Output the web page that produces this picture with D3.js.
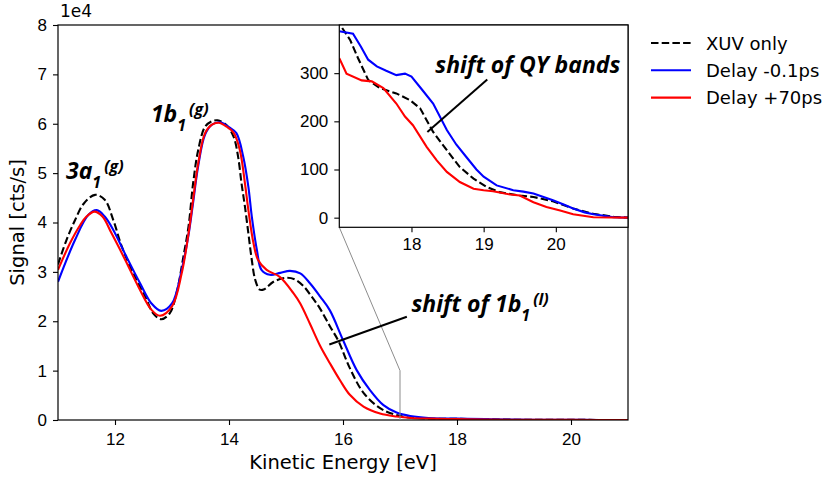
<!DOCTYPE html>
<html lang="en">
<head>
<meta charset="UTF-8">
<title>Photoelectron spectra</title>
<style>
    body { margin: 0; background: #fff; }
    svg { font-family: "DejaVu Sans", sans-serif; }
    .tick text { font-size: 17px; fill: #000; }
    .tick line { stroke: #000; stroke-width: 1.1; }
    .domain { display: none; }
    .note { font-family: "Open Sans", sans-serif; font-weight: bold; font-style: italic; font-size: 23px; }
</style>
</head>
<body>
<svg width="827" height="480"></svg>
<script src="https://d3js.org/d3.v7.min.js"></script>
<script>

// main spectra, [energy eV, signal cts/s]
var xuvMain = [[11.0,31500],[11.15,36500],[11.3,40500],[11.45,43800],[11.65,45600],[11.82,44600],[11.97,40500],
    [12.12,35100],[12.35,29000],[12.53,25000],[12.67,21600],[12.81,20400],[12.96,21600],[13.08,25700],[13.2,33100],
    [13.29,39200],[13.37,47900],[13.46,54700],[13.58,59400],[13.7,60500],[13.8,60700],[13.95,59800],[14.08,57400],
    [14.16,53300],[14.22,47900],[14.28,43200],[14.34,37800],[14.4,32400],[14.46,28400],[14.54,26400],[14.62,26500],
    [14.78,28000],[15.0,28800],[15.15,28500],[15.3,27200],[15.45,25000],[15.6,22500],[15.77,19000],[15.92,16000],
    [16.12,10500],[16.36,5500],[16.65,2400],[16.88,1200],[17.1,600],[17.5,300],[18.0,240],[18.5,140],[19.0,65],
    [19.5,46],[20.0,33],[20.5,10],[21.0,0]];
var earlyMain = [[11.0,28000],[11.3,36500],[11.53,41500],[11.68,42500],[11.82,41200],[11.97,38500],[12.2,33100],
    [12.44,27700],[12.64,23600],[12.81,22100],[13.0,23600],[13.17,30400],[13.29,37500],[13.37,44000],[13.46,51500],
    [13.58,57800],[13.7,59800],[13.84,60300],[14.0,59300],[14.13,58100],[14.25,53300],[14.34,47200],[14.4,41200],
    [14.49,34400],[14.57,30400],[14.72,29400],[14.9,29800],[15.07,30200],[15.25,29700],[15.42,27700],[15.6,25000],
    [15.77,22200],[16.0,16200],[16.24,10100],[16.47,6100],[16.71,3000],[16.94,1500],[17.18,800],[17.5,400],
    [18.0,290],[18.5,180],[19.0,85],[19.5,55],[20.0,35],[20.5,8],[21.0,0]];
var lateMain = [[11.0,30400],[11.21,35800],[11.39,39500],[11.5,41200],[11.64,42200],[11.78,41200],[11.94,37800],
    [12.18,32400],[12.41,27000],[12.64,22300],[12.79,21100],[13.0,23000],[13.17,29700],[13.29,37800],[13.37,44600],
    [13.46,52000],[13.58,58100],[13.7,59800],[13.82,60200],[13.96,59400],[14.08,58200],[14.19,54700],[14.28,47900],
    [14.34,42500],[14.43,35800],[14.51,32400],[14.66,30400],[14.89,29000],[15.13,25700],[15.25,23600],[15.42,19500],
    [15.6,15000],[15.77,11500],[15.95,8000],[16.12,5100],[16.36,2700],[16.65,1300],[16.94,700],[17.2,400],
    [17.5,280],[18.0,190],[18.5,95],[19.0,57],[19.5,46],[20.0,17],[20.5,2],[21.0,0]];

// inset (raw, 17-21 eV), [energy eV, signal cts/s]
var xuvInset = [[17.0,415],[17.03,396],[17.15,369],[17.26,331],[17.4,286],[17.56,269],[17.79,258],[17.98,244],
    [18.12,227],[18.3,178],[18.49,140],[18.67,105],[18.86,81],[19.04,64],[19.22,53],[19.5,46],[19.69,43],
    [19.96,34],[20.24,19],[20.52,8],[20.8,2],[21.0,0]];
var earlyInset = [[17.0,387],[17.19,382],[17.3,355],[17.4,328],[17.52,314],[17.65,305],[17.79,296],[17.91,299],
    [18.0,293],[18.15,265],[18.3,237],[18.49,182],[18.62,152],[18.76,126],[18.9,100],[19.0,85],[19.18,67],
    [19.41,57],[19.55,54],[19.69,50],[19.85,42],[19.96,36],[20.1,28],[20.24,19],[20.4,11],[20.52,7],[20.8,1],[21.0,0]];
var lateInset = [[17.0,331],[17.1,299],[17.31,285],[17.45,283],[17.61,269],[17.79,237],[17.91,210],[18.02,192],
    [18.21,147],[18.35,119],[18.49,95],[18.67,74],[18.86,60],[19.0,57],[19.13,55],[19.37,48],[19.5,46],
    [19.69,32],[19.87,22],[20.06,15],[20.24,7],[20.52,1],[21.0,0]];

var seriesNames = ["XUV only", "Delay -0.1ps", "Delay +70ps"];
var seriesColors = ["#000000", "#0000ff", "#ff0000"];
var seriesDash = ["7.5,3.2", null, null];

var xTicks = [12, 14, 16, 18, 20];
var yTicks = [0, 10000, 20000, 30000, 40000, 50000, 60000, 70000, 80000];
var xTicksInset = [18, 19, 20];
var yTicksInset = [0, 100, 200, 300];

var svg = d3.select("svg");

var x = d3.scaleLinear().domain([11, 21]).range([58, 628]);
var y = d3.scaleLinear().domain([0, 80000]).range([420, 25]);

var defs = svg.append("defs");
defs.append("clipPath").attr("id", "clipMain").append("rect")
    .attr("x", 58).attr("y", 25).attr("width", 570).attr("height", 395);

// main axes
svg.append("g").attr("transform", "translate(0,420)")
    .call(d3.axisBottom(x).tickValues(xTicks).tickSize(5).tickPadding(8).tickSizeOuter(0).tickFormat(d3.format("d")));
svg.append("g").attr("transform", "translate(58,0)")
    .call(d3.axisLeft(y).tickValues(yTicks).tickSize(5).tickPadding(6).tickSizeOuter(0)
        .tickFormat(function(d) { return d / 1e4; }));

svg.append("text").attr("x", 60).attr("y", 17).attr("font-size", 17).text("1e4");

var mainLine = d3.line()
    .x(function(d) { return x(d[0]); })
    .y(function(d) { return y(d[1]); })
    .curve(d3.curveCatmullRom.alpha(0.5));

var mainData = [xuvMain, earlyMain, lateMain];
var gMain = svg.append("g").attr("clip-path", "url(#clipMain)");
mainData.forEach(function(s, i) {
    gMain.append("path")
        .attr("d", mainLine(s))
        .attr("fill", "none")
        .attr("stroke", seriesColors[i])
        .attr("stroke-width", 2.1)
        .attr("stroke-dasharray", seriesDash[i]);
});

svg.append("rect").attr("x", 58).attr("y", 25).attr("width", 570).attr("height", 395)
    .attr("fill", "none").attr("stroke", "#000").attr("stroke-width", 1.2);

svg.append("text").attr("x", x(16)).attr("y", 469).attr("text-anchor", "middle")
    .attr("font-size", 19.5).text("Kinetic Energy [eV]");
svg.append("text").attr("transform", "translate(24," + y(40000) + ") rotate(-90)")
    .attr("text-anchor", "middle").attr("font-size", 19.5).text("Signal [cts/s]");

// inset position guide
svg.append("path")
    .attr("d", "M339.3,227.3L" + x(17) + "," + y(10000) + "L" + x(17) + "," + y(0))
    .attr("fill", "none").attr("stroke", "#8c8c8c").attr("stroke-width", 1);

// peak labels
function label(sel, px, py, base, sub, sup) {
    var t = sel.append("text").attr("class", "note").attr("x", px).attr("y", py);
    t.append("tspan").text(base);
    t.append("tspan").attr("font-size", 16).attr("dy", 9).text(sub);
    t.append("tspan").attr("font-size", 16).attr("dy", -16).attr("dx", 3).text(sup);
    return t;
}
label(svg, x(11.14), y(48800), "3a", "1", "(g)");
label(svg, x(12.63), y(60300), "1b", "1", "(g)");
label(svg, x(17.2), y(21900), "shift of 1b", "1", "(l)");

svg.append("line")
    .attr("x1", x(15.76)).attr("y1", y(15300))
    .attr("x2", x(17.12)).attr("y2", y(20900))
    .attr("stroke", "#000").attr("stroke-width", 2);

// inset
var xi = d3.scaleLinear().domain([17, 21]).range([339.3, 628]);
var yi = d3.scaleLinear().domain([-20, 400]).range([227.3, 25]);

defs.append("clipPath").attr("id", "clipInset").append("rect")
    .attr("x", 339.3).attr("y", 25).attr("width", 288.7).attr("height", 202.3);

svg.append("rect").attr("x", 339.3).attr("y", 25).attr("width", 288.7).attr("height", 202.3)
    .attr("fill", "#fff");

svg.append("g").attr("transform", "translate(0,227.3)")
    .call(d3.axisBottom(xi).tickValues(xTicksInset).tickSize(5).tickPadding(6).tickSizeOuter(0)
        .tickFormat(d3.format("d")));
svg.append("g").attr("transform", "translate(339.3,0)")
    .call(d3.axisLeft(yi).tickValues(yTicksInset).tickSize(5).tickPadding(6).tickSizeOuter(0));

var insetLine = d3.line()
    .x(function(d) { return xi(d[0]); })
    .y(function(d) { return yi(d[1]); });

var insetData = [xuvInset, earlyInset, lateInset];
var gInset = svg.append("g").attr("clip-path", "url(#clipInset)");
insetData.forEach(function(s, i) {
    gInset.append("path")
        .attr("d", insetLine(s))
        .attr("fill", "none")
        .attr("stroke", seriesColors[i])
        .attr("stroke-width", 2.1)
        .attr("stroke-dasharray", seriesDash[i]);
});

svg.append("rect").attr("x", 339.3).attr("y", 25).attr("width", 288.7).attr("height", 202.3)
    .attr("fill", "none").attr("stroke", "#000").attr("stroke-width", 1.2);

svg.append("text").attr("class", "note").attr("x", xi(18.33)).attr("y", yi(300))
    .text("shift of QY bands");
svg.append("line")
    .attr("x1", xi(18.22)).attr("y1", yi(178))
    .attr("x2", xi(19.05)).attr("y2", yi(287))
    .attr("stroke", "#000").attr("stroke-width", 2);

// legend
var legend = svg.append("g").attr("transform", "translate(651,43)");
seriesNames.forEach(function(name, i) {
    var row = legend.append("g").attr("transform", "translate(0," + (i * 27.3) + ")");
    row.append("line").attr("x1", 0).attr("x2", 40).attr("y1", 0).attr("y2", 0)
        .attr("stroke", seriesColors[i]).attr("stroke-width", 2.1)
        .attr("stroke-dasharray", seriesDash[i]);
    row.append("text").attr("x", 55).attr("y", 6.5).attr("font-size", 18).text(name);
});

</script>
</body>
</html>
